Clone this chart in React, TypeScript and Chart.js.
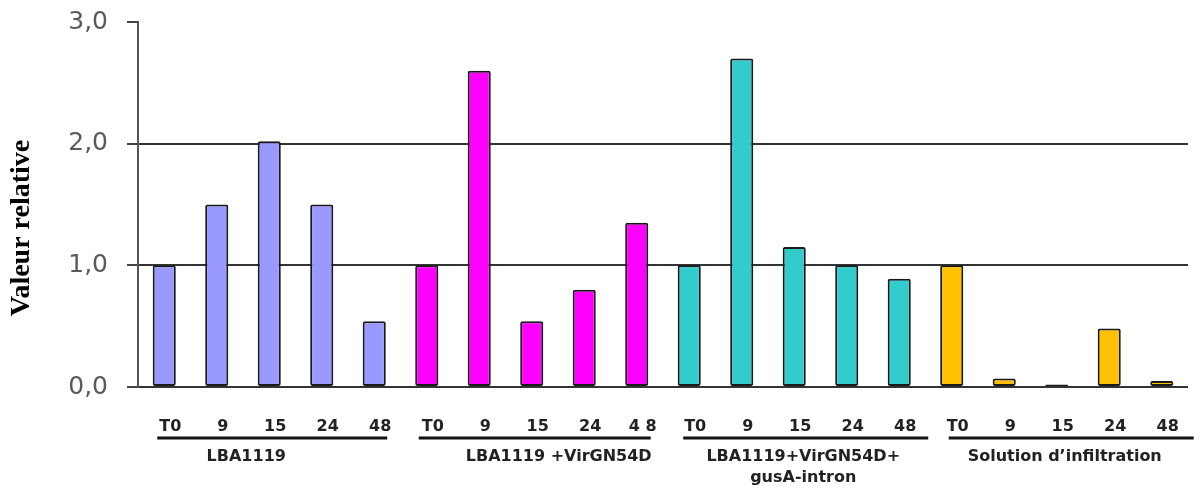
import React, { useEffect, useRef } from "react";
import { Chart, registerables } from "chart.js";

Chart.register(...registerables);

const timeLabels = [
  "T0", "9", "15", "24", "48",
  "T0", "9", "15", "24", "4 8",
  "T0", "9", "15", "24", "48",
  "T0", "9", "15", "24", "48",
];

const lba1119 = [1.0, 1.5, 2.02, 1.5, 0.54];
const lbaVirG = [1.0, 2.6, 0.54, 0.8, 1.35];
const lbaVirGGus = [1.0, 2.7, 1.15, 1.0, 0.89];
const solutionInf = [1.0, 0.07, 0.02, 0.48, 0.05];

const groupNames: (string | string[])[] = [
  "LBA1119",
  "LBA1119 +VirGN54D",
  ["LBA1119+VirGN54D+", "gusA-intron"],
  "Solution d\u2019infiltration",
];
const groupColors = ["#9999FF", "#FF00FF", "#33CCCC", "#FFC000"];

const yTicks = [0, 1, 2, 3];
const yTitle = "Valeur relative";

const seriesList = [lba1119, lbaVirG, lbaVirGGus, solutionInf];
const allValues = seriesList.flat();
const barColors = seriesList.flatMap((s, gi) => s.map(() => groupColors[gi]));

// style tweaks for the group annotations (pixels)
const lineLeftExt = [7, 8, 6, 3];
const lineRightExt = [13, 14, 29, 32];
const labelDx = [-23, 27, 9, 8];

const groupPlugin = {
  id: "groupAnnot",
  afterDraw(chart: any) {
    const ctx = chart.ctx;
    const xs = chart.scales.x;
    let start = 0;
    ctx.save();
    seriesList.forEach((s, gi) => {
      const first = xs.getPixelForValue(start);
      const last = xs.getPixelForValue(start + s.length - 1);
      const x0 = first - lineLeftExt[gi];
      const x1 = Math.min(last + lineRightExt[gi], chart.width);
      ctx.strokeStyle = "#111";
      ctx.lineWidth = 3;
      ctx.beginPath();
      ctx.moveTo(x0, 438);
      ctx.lineTo(x1, 438);
      ctx.stroke();
      const cx = (first + last) / 2 + labelDx[gi];
      ctx.fillStyle = "#222";
      ctx.font = 'bold 16px "DejaVu Sans"';
      ctx.textAlign = "center";
      ctx.textBaseline = "middle";
      const name = groupNames[gi];
      const lines = Array.isArray(name) ? name : [name];
      lines.forEach((ln, li) => ctx.fillText(ln, cx, 457 + li * 21));
      start += s.length;
    });
    // y axis title
    ctx.translate(22, 228);
    ctx.rotate(-Math.PI / 2);
    ctx.fillStyle = "#000";
    ctx.font = 'bold 28px "Liberation Serif"';
    ctx.textAlign = "center";
    ctx.textBaseline = "middle";
    ctx.fillText(yTitle, 0, 0);
    ctx.restore();
  },
};

export default function App() {
  const ref = useRef<HTMLCanvasElement>(null);
  useEffect(() => {
    document.body.style.margin = "0";
    const chart = new Chart(ref.current!, {
      type: "bar",
      data: {
        labels: timeLabels,
        datasets: [
          {
            data: allValues,
            backgroundColor: barColors,
            borderColor: "#1a1a1a",
            borderWidth: 2,
            borderRadius: 2,
            borderSkipped: false,
            categoryPercentage: 1,
            barPercentage: 0.44,
          },
        ],
      },
      options: {
        responsive: false,
        animation: false,
        layout: { padding: { left: 0, right: 6, top: 22, bottom: 0 } },
        plugins: {
          legend: { display: false },
          tooltip: { enabled: false },
        },
        scales: {
          x: {
            grid: { display: false, drawTicks: false },
            border: { display: true, color: "#333", width: 2 },
            ticks: {
              color: "#222",
              font: { family: "DejaVu Sans", size: 16, weight: "bold" },
              padding: 30,
              labelOffset: 6,
              maxRotation: 0,
              autoSkip: false,
            },
            afterFit: (s: any) => {
              s.height = 103;
            },
          },
          y: {
            min: 0,
            max: 3,
            afterBuildTicks: (s: any) => {
              s.ticks = yTicks.map((v) => ({ value: v }));
            },
            grid: {
              color: (c: any) =>
                c.tick && (c.tick.value === 1 || c.tick.value === 2) ? "#333" : "rgba(0,0,0,0)",
              tickColor: "#444",
              lineWidth: 2,
              tickLength: 11,
            },
            border: { display: true, color: "#555", width: 2 },
            ticks: {
              color: "#5a5a5a",
              font: { family: "DejaVu Sans", size: 25 },
              padding: 19,
              callback: (v: any) => Number(v).toFixed(1).replace(".", ","),
            },
            afterFit: (s: any) => {
              s.width = 138;
              s.paddingTop = 0;
              s.paddingBottom = 0;
            },
          },
        },
      },
      plugins: [groupPlugin],
    });
    return () => chart.destroy();
  }, []);
  return (
    <div style={{ position: "fixed", left: 0, top: 0, width: 1203, height: 490, background: "#fff" }}>
      <canvas ref={ref} width={1203} height={490} style={{ display: "block" }} />
    </div>
  );
}
